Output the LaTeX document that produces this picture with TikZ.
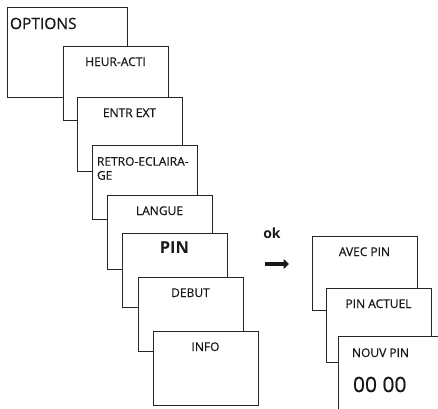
\documentclass[tikz,border=0pt]{standalone}
\usepackage{fontspec}
\setmainfont{Open Sans}[UprightFeatures={FakeBold=0.6}]
\usetikzlibrary{positioning, arrows.meta, calc}

\tikzset{
    menubox/.style={draw=black!85, line width=0.8pt, fill=white, inner sep=0, outer sep=0,
        anchor=north west, minimum width=105pt, minimum height=74pt},
    menutxt/.style={inner sep=0, outer sep=0, anchor=base, text=black!90,
        font=\fontsize{12}{14}\selectfont},
    pintxt/.style={menutxt, font=\fontsize{16.5}{18}\selectfont\bfseries},
}

\begin{document}
\begin{tikzpicture}[x=1pt,y=-1pt]
    \useasboundingbox (0,0) rectangle (438,408);
    \clip (0,0) rectangle (438,408);

    % main menu
    \node[menubox, minimum width=120pt, minimum height=90pt] (options) at (7,7) {};
    \node[menutxt, anchor=base west, font=\fontsize{15.5}{18}\selectfont]
        (options-t) at ([xshift=3pt,yshift=-22pt]options.north west) {OPTIONS};

    % sub menus
    \foreach \name/\x/\y/\txt/\sty in {
        heur/63/46/HEUR-ACTI/menutxt,
        entr/77/97/ENTR EXT/menutxt,
        retro/92/145//menutxt,
        langue/107/195/LANGUE/menutxt,
        pin/122/233/PIN/pintxt,
        debut/138/277/DEBUT/menutxt,
        info/153/331/INFO/menutxt}
    {
        \node[menubox] (\name) at (\x,\y) {};
        \node[\sty] (\name-t) at ([yshift=-20pt]\name.north) {\txt};
    }

    % two lines, left aligned
    \node[menutxt, anchor=north west, align=left]
        (retro-l) at ([xshift=5pt,yshift=-12pt]retro.north west) {RETRO-ECLAIRA-\\GE};

    % ok arrow
    \coordinate (ok-s) at (265,264);
    \coordinate (ok-e) at (289,264);
    \draw[black!90, line width=4.8pt, -{Triangle[length=5.5pt,width=10pt]}] (ok-s) -- (ok-e);
    \node[menutxt, font=\fontsize{14}{16}\selectfont\bfseries] (ok) at (272,238) {ok};

    % pin menu
    \foreach \name/\x/\y/\txt in {
        avec/312/236/AVEC PIN,
        actuel/326/288/PIN ACTUEL}
    {
        \node[menubox] (\name) at (\x,\y) {};
        \node[menutxt] (\name-t) at ([yshift=-20pt]\name.north) {\txt};
    }
    \node[menubox] (nouv) at (338,336) {};
    \node[menutxt, anchor=base west] (nouv-t) at ([xshift=14pt,yshift=-21pt]nouv.north west) {NOUV PIN};
    \node[menutxt, anchor=base west, font=\fontsize{21}{24}\selectfont]
        (nouv-v) at ([xshift=15pt,yshift=-56pt]nouv.north west) {00 00};
\end{tikzpicture}
\end{document}
